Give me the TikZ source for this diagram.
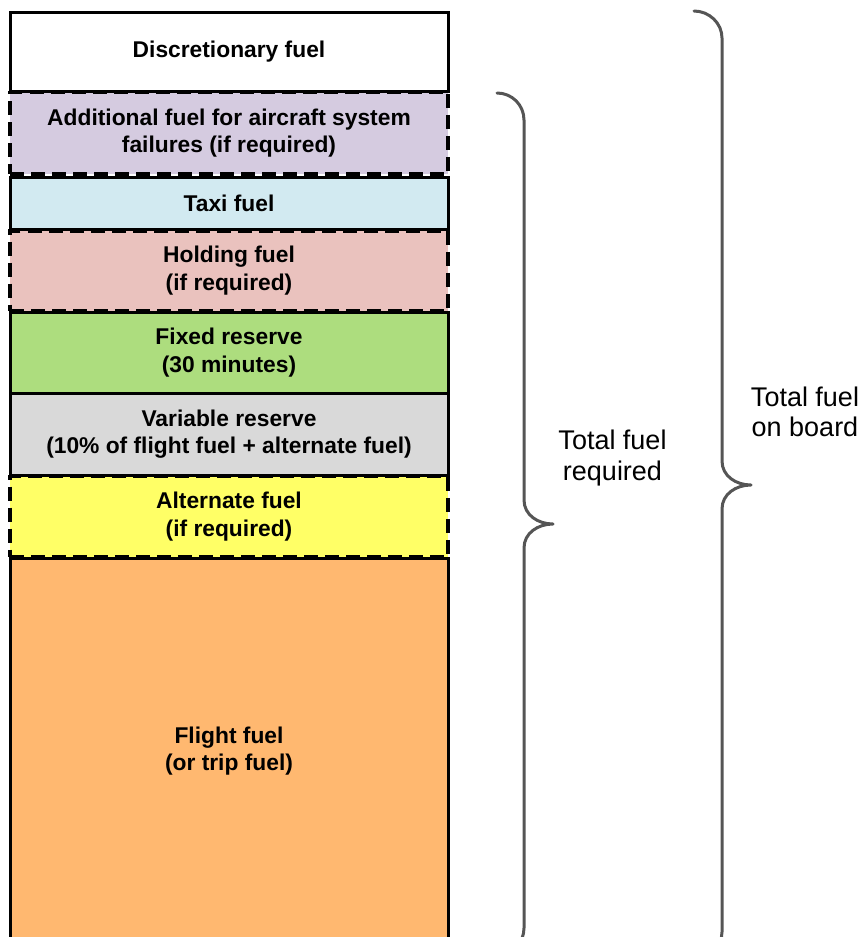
\documentclass[tikz,border=0pt]{standalone}
\usepackage{fontspec}
\setmainfont{Liberation Sans}
\usetikzlibrary{positioning}
\definecolor{addlcol}{HTML}{D5CBE0}
\definecolor{taxicol}{HTML}{D2EAF1}
\definecolor{holdcol}{HTML}{EAC2BE}
\definecolor{fixcol}{HTML}{ADDD7E}
\definecolor{varcol}{HTML}{D9D9D9}
\definecolor{altcol}{HTML}{FFFF66}
\definecolor{flightcol}{HTML}{FFB870}
\definecolor{brcgray}{HTML}{555555}

\begin{document}
\begin{tikzpicture}[x=1pt,y=-1pt,tank/.style={draw=black,line width=3pt,outer sep=0pt,inner sep=0pt,minimum width=438pt,align=center,font=\fontsize{22.8}{27.5}\selectfont\bfseries},opt/.style={tank,line width=3.2pt,dash pattern=on 14pt off 7pt},lbl/.style={align=center,font=\fontsize{27}{30.5}\selectfont},brc/.style={draw=brcgray,line width=3pt,line cap=round,line join=round}]

\useasboundingbox (0,0) rectangle (863,937);
\clip (0,0) rectangle (863,937);

\node[tank,fill=white,minimum height=78.5pt,anchor=north west] (disc) at (10,12.5) {Discretionary fuel};
\node[opt,fill=addlcol,minimum height=81.5pt]  (addl)   [below=1.5pt of disc]   {Additional fuel for aircraft system\\failures (if required)};
\node[tank,fill=taxicol,minimum height=52.5pt] (taxi)   [below=3pt of addl]     {Taxi fuel};
\node[opt,fill=holdcol,minimum height=79.5pt]  (hold)   [below=1.5pt of taxi]   {Holding fuel\\(if required)};
\node[tank,fill=fixcol,minimum height=81pt]    (fixres) [below=1.5pt of hold]   {Fixed reserve\\(30 minutes)};
\node[tank,fill=varcol,minimum height=82pt]    (varres) [below=0pt of fixres]   {Variable reserve\\(10\% of flight fuel + alternate fuel)};
\node[opt,fill=altcol,minimum height=80pt]     (altn)   [below=1.5pt of varres] {Alternate fuel\\(if required)};
\node[tank,fill=flightcol,minimum height=386pt] (flight) [below=1.5pt of altn]  {Flight fuel\\(or trip fuel)};

\draw[brc] (497,93) .. controls (512,93) and (524,105) .. (524,120) -- (524,500) .. controls (524,515) and (538,524) .. (553,524) .. controls (538,524) and (524,533) .. (524,548) -- (524,928) .. controls (524,943) and (512,955) .. (497,955);
\draw[brc] (694,11) .. controls (709,11) and (722,23) .. (722,38) -- (722,461) .. controls (722,476) and (736,485) .. (751,485) .. controls (736,485) and (722,494) .. (722,509) -- (722,932) .. controls (722,947) and (709,959) .. (694,959);

\node[lbl] (req) at (612.5,458) {Total fuel\\required};
\node[lbl] (onb) at (805,412)   {Total fuel\\on board};

\end{tikzpicture}
\end{document}
